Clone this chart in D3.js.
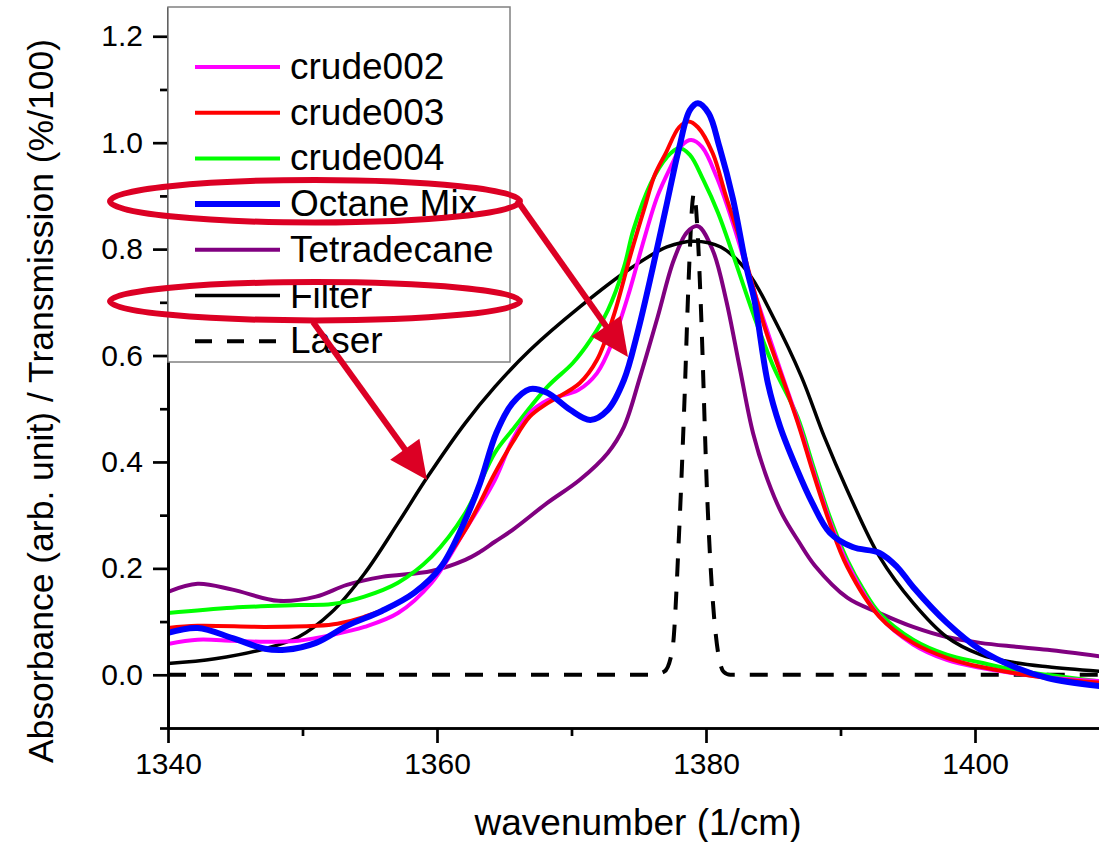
<!DOCTYPE html>
<html>
<head>
<meta charset="utf-8">
<script src="https://cdn.jsdelivr.net/npm/d3@7/dist/d3.min.js"></script>
<style>
  body { margin: 0; background: #fff; }
  svg { display: block; font-family: "Liberation Sans", Arial, sans-serif; }
</style>
</head>
<body>
<div id="chart"></div>
<script>
// data: [wavenumber, value]
var crude002 = [[1340,0.058],[1342.2,0.066],[1344.8,0.064],[1347.2,0.062],[1349.7,0.064],[1352.2,0.075],[1354.6,0.09],[1357.1,0.116],[1359.6,0.173],[1362.1,0.272],[1364.3,0.366],[1365.6,0.441],[1366.9,0.492],[1368.2,0.516],[1370.5,0.535],[1371.9,0.567],[1373.1,0.629],[1374.3,0.72],[1375.3,0.81],[1376.4,0.9],[1377.5,0.961],[1378.2,0.995],[1378.9,1.005],[1379.7,0.992],[1380.8,0.935],[1382.0,0.849],[1383.0,0.766],[1385.5,0.575],[1387.0,0.464],[1387.9,0.39],[1389.2,0.29],[1390.5,0.21],[1392.9,0.11],[1395.4,0.057],[1397.9,0.028],[1400.4,0.013],[1402.9,0.003],[1405.4,-0.005],[1409.5,-0.012]];
var crude003 = [[1340,0.088],[1342.2,0.092],[1347.2,0.09],[1351.0,0.092],[1352.6,0.096],[1354.6,0.109],[1357.1,0.135],[1359.6,0.184],[1362.1,0.272],[1364.3,0.379],[1365.6,0.436],[1366.9,0.485],[1368.2,0.51],[1370.6,0.548],[1371.9,0.592],[1373.1,0.672],[1374.4,0.79],[1375.4,0.875],[1376.2,0.94],[1377.0,0.98],[1378.0,1.029],[1378.7,1.04],[1379.4,1.029],[1380.5,0.98],[1381.5,0.898],[1382.7,0.804],[1383.1,0.766],[1384.5,0.642],[1386.0,0.535],[1387.0,0.46],[1387.9,0.385],[1389.2,0.285],[1390.5,0.203],[1392.9,0.109],[1395.4,0.06],[1397.9,0.032],[1400.4,0.015],[1405.4,-0.006],[1409.5,-0.015]];
var crude004 = [[1340,0.116],[1344.8,0.126],[1349.7,0.131],[1352.2,0.133],[1354.6,0.147],[1357.1,0.173],[1359.6,0.222],[1362.1,0.304],[1364.3,0.417],[1365.6,0.46],[1368.2,0.541],[1370.1,0.586],[1371.4,0.629],[1372.7,0.685],[1373.9,0.766],[1374.6,0.836],[1375.9,0.924],[1377.1,0.973],[1378.0,0.99],[1378.8,0.977],[1379.8,0.93],[1380.9,0.868],[1382.0,0.79],[1383.6,0.672],[1385.0,0.58],[1386.8,0.485],[1387.9,0.398],[1389.2,0.297],[1390.5,0.216],[1391.7,0.16],[1392.9,0.116],[1395.4,0.066],[1397.9,0.038],[1400.4,0.023],[1402.9,0.009],[1405.4,0],[1409.5,-0.013]];
var octaneMix = [[1340,0.079],[1342.2,0.088],[1344.8,0.069],[1347.2,0.049],[1348.7,0.047],[1351.0,0.06],[1353.3,0.092],[1355.9,0.12],[1358.3,0.154],[1360.3,0.203],[1362.1,0.291],[1363.2,0.36],[1364.4,0.454],[1365.6,0.51],[1366.9,0.537],[1368.2,0.53],[1369.9,0.498],[1371.4,0.479],[1372.7,0.498],[1373.9,0.554],[1374.9,0.642],[1376.0,0.76],[1377.0,0.875],[1378.0,0.99],[1378.8,1.061],[1379.4,1.074],[1380.2,1.055],[1381.0,0.992],[1382.0,0.895],[1383.0,0.766],[1383.6,0.704],[1384.6,0.548],[1385.5,0.467],[1386.7,0.39],[1387.9,0.323],[1389.2,0.267],[1390.9,0.24],[1392.9,0.229],[1394.2,0.203],[1395.4,0.165],[1397.9,0.098],[1400.4,0.047],[1402.9,0.015],[1405.4,-0.006],[1409.5,-0.022]];
var tetradecane = [[1340,0.156],[1342.2,0.171],[1344.8,0.16],[1348.2,0.139],[1351.0,0.147],[1353.3,0.169],[1355.9,0.184],[1359.6,0.195],[1362.1,0.216],[1363.2,0.231],[1364.3,0.25],[1365.6,0.272],[1368.2,0.323],[1370.6,0.366],[1372.7,0.417],[1373.9,0.466],[1375.1,0.56],[1376.4,0.672],[1377.6,0.779],[1378.6,0.832],[1379.4,0.843],[1380.5,0.798],[1381.5,0.704],[1382.5,0.578],[1383.5,0.454],[1384.6,0.365],[1385.7,0.3],[1386.9,0.25],[1388.1,0.205],[1390.5,0.145],[1392.9,0.116],[1395.4,0.09],[1397.9,0.071],[1400.4,0.06],[1402.9,0.053],[1405.4,0.047],[1409.5,0.034]];
var filter = [[1340,0.021],[1343.5,0.03],[1347.2,0.049],[1349.7,0.071],[1352.1,0.116],[1354.6,0.19],[1357.1,0.285],[1359.3,0.372],[1362.1,0.473],[1364.3,0.541],[1366.9,0.61],[1370.6,0.691],[1374.4,0.764],[1377.1,0.804],[1379.1,0.815],[1381.1,0.804],[1383.1,0.757],[1385.0,0.672],[1387.1,0.56],[1388.8,0.447],[1390.5,0.347],[1392.9,0.222],[1395.4,0.135],[1397.9,0.071],[1400.4,0.038],[1402.9,0.023],[1405.4,0.015],[1409.5,0.006]];
var laser = [[1340,0],[1376,0],[1376.9,0.006],[1377.5,0.047],[1378.0,0.267],[1378.4,0.516],[1378.7,0.736],[1379.0,0.89],[1379.1,0.905],[1379.4,0.82],[1379.6,0.704],[1380.1,0.329],[1380.6,0.109],[1381.3,0.006],[1381.8,0],[1410,0]];

var seriesNames = ["crude002", "crude003", "crude004", "Octane Mix", "Tetradecane", "Filter", "Laser"];
var seriesData = [crude002, crude003, crude004, octaneMix, tetradecane, filter, laser];
var seriesColors = ["#ff00ff", "#ff0000", "#00ff00", "#0000ff", "#800080", "#000000", "#000000"];
var seriesWidths = [4, 4, 4, 6, 4, 3.5, 4];

var xMajorTicks = [1340, 1360, 1380, 1400];
var xMinorTicks = [1350, 1370, 1390];
var yMajorTicks = [0.0, 0.2, 0.4, 0.6, 0.8, 1.0, 1.2];
var yMinorTicks = [-0.1, 0.1, 0.3, 0.5, 0.7, 0.9, 1.1];

// red annotations (in data units)
var ellipses = [{ cx: 1350.93, cy: 0.89, rx: 15.24, ry: 0.04 }, { cx: 1350.93, cy: 0.702, rx: 15.24, ry: 0.036 }];
var arrows = [{ x1: 1365.95, y1: 0.892, x2: 1374.2, y2: 0.597 }, { x1: 1350.78, y1: 0.663, x2: 1359.26, y2: 0.366 }];

var width = 1099;
var height = 842;

var svg = d3
  .select("#chart")
  .append("svg")
  .attr("width", width)
  .attr("height", height);

var xScale = d3.scaleLinear().domain([1340, 1410]).range([168, 168 + 70 * 13.45]);
var yScale = d3.scaleLinear().domain([-0.1, 1.255]).range([728, 7]);

svg
  .append("clipPath")
  .attr("id", "plot-clip")
  .append("rect")
  .attr("x", 168)
  .attr("y", 0)
  .attr("width", width - 168)
  .attr("height", 728);

var smooth = d3
  .line()
  .x(function(d) { return xScale(d[0]); })
  .y(function(d) { return yScale(d[1]); })
  .curve(d3.curveCatmullRom.alpha(0.5));

var sharp = d3
  .line()
  .x(function(d) { return xScale(d[0]); })
  .y(function(d) { return yScale(d[1]); })
  .curve(d3.curveMonotoneX);

// curves: blue drawn last, on top
var drawOrder = [6, 4, 5, 2, 0, 1, 3];
var plot = svg.append("g").attr("clip-path", "url(#plot-clip)");
drawOrder.forEach(function(i) {
  plot
    .append("path")
    .datum(seriesData[i])
    .attr("d", i === 6 ? sharp : smooth)
    .attr("fill", "none")
    .attr("stroke", seriesColors[i])
    .attr("stroke-width", seriesWidths[i])
    .attr("stroke-dasharray", i === 6 ? "18,15" : null)
    .attr("stroke-linejoin", "round");
});

// axes
var xAxis = d3.axisBottom(xScale).tickValues(xMajorTicks).tickSize(15).tickSizeOuter(0).tickPadding(10).tickFormat(d3.format("d"));
var xAxisMinor = d3.axisBottom(xScale).tickValues(xMinorTicks).tickSize(8).tickSizeOuter(0).tickFormat("");
var yAxis = d3.axisLeft(yScale).tickValues(yMajorTicks).tickSize(15).tickSizeOuter(0).tickPadding(10).tickFormat(d3.format(".1f"));
var yAxisMinor = d3.axisLeft(yScale).tickValues(yMinorTicks).tickSize(8).tickSizeOuter(0).tickFormat("");

function styleAxis(g) {
  g.selectAll("path, line").attr("stroke", "#000").attr("stroke-width", 2.7);
  g.selectAll("text").attr("fill", "#000").style("font-size", "30px").style("font-family", "Liberation Sans, Arial, sans-serif");
}

svg.append("g").attr("transform", "translate(0,728)").call(xAxisMinor).call(styleAxis);
svg.append("g").attr("transform", "translate(0,728)").call(xAxis).call(styleAxis);
svg.append("g").attr("transform", "translate(168,0)").call(yAxisMinor).call(styleAxis);
svg.append("g").attr("transform", "translate(168,0)").call(yAxis).call(styleAxis);

// axis titles
svg
  .append("text")
  .text("wavenumber (1/cm)")
  .attr("x", 638)
  .attr("y", 835)
  .attr("text-anchor", "middle")
  .style("font-size", "37px");

svg
  .append("text")
  .text("Absorbance (arb. unit) / Transmission (%/100)")
  .attr("transform", "translate(53,401) rotate(-90)")
  .attr("text-anchor", "middle")
  .style("font-size", "35.5px");

// legend
var legend = svg.append("g");
legend
  .append("rect")
  .attr("x", 168)
  .attr("y", 7)
  .attr("width", 342)
  .attr("height", 355)
  .attr("fill", "#fff")
  .attr("stroke", "#808080")
  .attr("stroke-width", 1.5);

var rows = legend
  .selectAll("g.row")
  .data(seriesNames)
  .enter()
  .append("g")
  .attr("class", "row")
  .attr("transform", function(d, i) { return "translate(0," + (67 + i * 45.7) + ")"; });

rows
  .append("line")
  .attr("x1", 195)
  .attr("x2", 280)
  .attr("stroke", function(d, i) { return seriesColors[i]; })
  .attr("stroke-width", function(d, i) { return seriesWidths[i]; })
  .attr("stroke-dasharray", function(d, i) { return i === 6 ? "17,15" : null; });

rows
  .append("text")
  .text(function(d) { return d; })
  .attr("x", 290)
  .attr("y", 12)
  .style("font-size", "37px");

// red ellipses and arrows
var red = "#dc0024";
svg
  .selectAll("ellipse.note")
  .data(ellipses)
  .enter()
  .append("ellipse")
  .attr("class", "note")
  .attr("cx", function(d) { return xScale(d.cx); })
  .attr("cy", function(d) { return yScale(d.cy); })
  .attr("rx", function(d) { return xScale(d.cx + d.rx) - xScale(d.cx); })
  .attr("ry", function(d) { return yScale(d.cy - d.ry) - yScale(d.cy); })
  .attr("fill", "none")
  .attr("stroke", red)
  .attr("stroke-width", 6);

arrows.forEach(function(a) {
  var x1 = xScale(a.x1), y1 = yScale(a.y1), x2 = xScale(a.x2), y2 = yScale(a.y2);
  var dx = x2 - x1, dy = y2 - y1;
  var len = Math.sqrt(dx * dx + dy * dy);
  var ux = dx / len, uy = dy / len;
  var headLen = 38, headHalf = 18;
  var bx = x2 - ux * headLen, by = y2 - uy * headLen;
  svg
    .append("line")
    .attr("x1", x1)
    .attr("y1", y1)
    .attr("x2", bx + ux * 2)
    .attr("y2", by + uy * 2)
    .attr("stroke", red)
    .attr("stroke-width", 6);
  svg
    .append("path")
    .attr("d", "M" + x2 + "," + y2 +
      "L" + (bx - uy * headHalf) + "," + (by + ux * headHalf) +
      "L" + (bx + uy * headHalf) + "," + (by - ux * headHalf) + "Z")
    .attr("fill", red);
});
</script>
</body>
</html>
